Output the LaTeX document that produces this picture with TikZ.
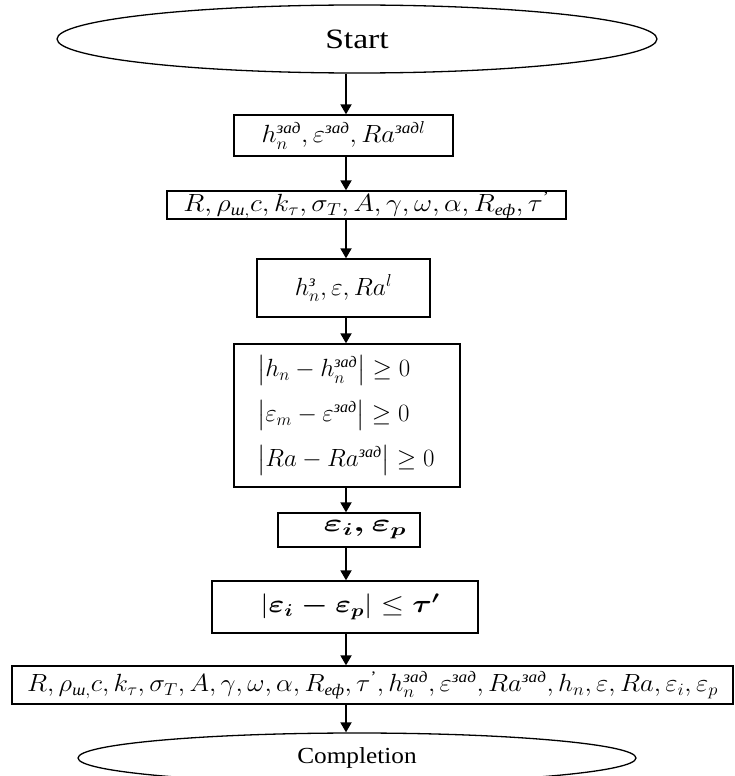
\documentclass[tikz,border=0pt]{standalone}
\usepackage{amsmath}
\usepackage{graphicx}
\usepackage{fontspec}
\setmainfont{Liberation Serif}
\usetikzlibrary{shapes.geometric,arrows.meta}
\newcommand{\cyr}[1]{\text{\itshape #1}}
\begin{document}
\begin{tikzpicture}[x=1pt,y=-1pt,
  box/.style={draw,line width=1.3pt,rectangle,inner sep=0pt,font=\fontsize{23}{27}\selectfont},
  term/.style={draw,line width=1.3pt,ellipse,inner sep=0pt},
  arr/.style={line width=1.8pt,-{Triangle[length=10pt,width=11pt]}}]
\useasboundingbox (0,0) rectangle (734,776);
\clip (0,0) rectangle (734,776);
\coordinate (axis) at (346,0);
\node[term,minimum width=600pt,minimum height=68pt,font=\fontsize{28}{32}\selectfont] (start) at (357,39) {\scalebox{1.2}[1]{Start}};
\node[box,minimum width=219pt,minimum height=41pt] (b1) at (343.5,135.5)
  {\scalebox{1.07}[1]{$h_n^{\cyr{зад}},\varepsilon^{\cyr{зад}},Ra^{\cyr{зад}l}$}};
\node[box,minimum width=399pt,minimum height=28pt] (b2) at (366.5,205)
  {\scalebox{1.12}[1]{$R,\rho_{\cyr{ш},}c,k_\tau,\sigma_T,A,\gamma,\omega,\alpha,R_{\cyr{еф}},\tau^{\text{'}}$}};
\node[box,minimum width=173pt,minimum height=58pt] (b3) at (343.5,288)
  {\scalebox{1.02}[1]{$h_n^{\cyr{з}},\varepsilon,Ra^l$}};
\node[box,minimum width=226pt,minimum height=143pt,align=left,text width=180pt,inner xsep=23pt] (b4) at (347,415.5)
  {$\left|h_n-h_n^{\cyr{зад}}\right|\ge 0$\\[14pt]
   $\left|\varepsilon_m-\varepsilon^{\cyr{зад}}\right|\ge 0$\\[14pt]
   $\left|Ra-Ra^{\cyr{зад}}\right|\ge 0$};
\node[box,minimum width=142pt,minimum height=34pt,font=\fontsize{27}{30}\selectfont] (b5) at (349,530)
  {\hspace*{32pt}\scalebox{1.44}[1]{$\boldsymbol{\varepsilon_i,\varepsilon_p}$}};
\node[box,minimum width=266pt,minimum height=52pt,font=\fontsize{27}{30}\selectfont] (b6) at (345,607)
  {\hspace*{10pt}\scalebox{1.2}[1]{$\left|\boldsymbol{\varepsilon_i-\varepsilon_p}\right|\le\boldsymbol{\tau^{\prime}}$}};
\node[box,minimum width=721pt,minimum height=38pt] (b7) at (372.5,685)
  {\scalebox{1.07}[1]{$R,\rho_{\cyr{ш},}c,k_\tau,\sigma_T,A,\gamma,\omega,\alpha,R_{\cyr{еф}},\tau^{\text{'}},h_n^{\cyr{зад}},\varepsilon^{\cyr{зад}},Ra^{\cyr{зад}},h_n,\varepsilon,Ra,\varepsilon_i,\varepsilon_p$}};
\node[term,minimum width=558pt,minimum height=50pt,font=\fontsize{23}{27}\selectfont] (end) at (357,758) {\scalebox{1.1}[1]{Completion}};
\draw[arr] (start.south -| axis) -- (b1.north -| axis);
\draw[arr] (b1.south -| axis) -- (b2.north -| axis);
\draw[arr] (b2.south -| axis) -- (b3.north -| axis);
\draw[arr] (b3.south -| axis) -- (b4.north -| axis);
\draw[arr] (b4.south -| axis) -- (b5.north -| axis);
\draw[arr] (b5.south -| axis) -- (b6.north -| axis);
\draw[arr] (b6.south -| axis) -- (b7.north -| axis);
\draw[arr] (b7.south -| axis) -- (end.north -| axis);
\end{tikzpicture}
\end{document}
